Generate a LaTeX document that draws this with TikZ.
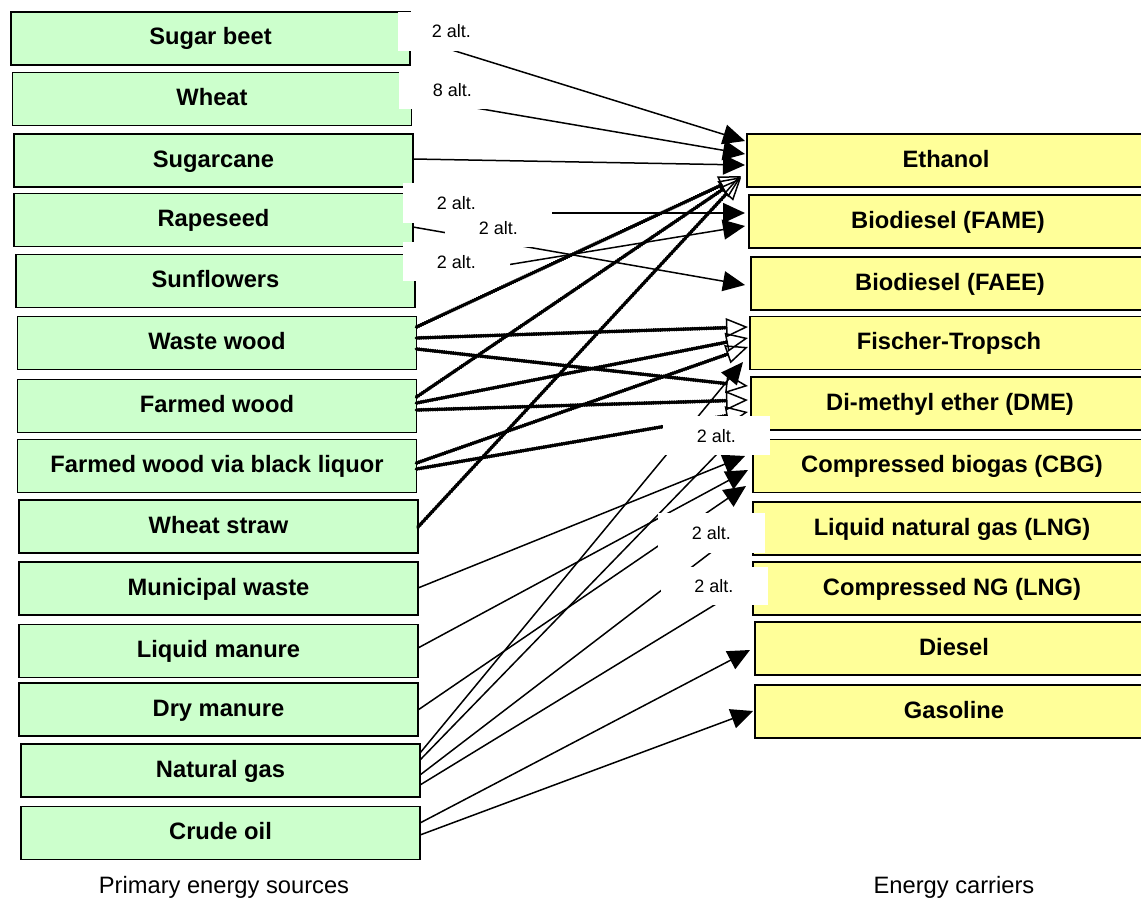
\documentclass[tikz,border=0pt]{standalone}
\usepackage{fontspec}
\setmainfont{Liberation Sans}
\usetikzlibrary{arrows.meta,calc}
\definecolor{srcgreen}{HTML}{CCFFCC}
\definecolor{caryellow}{HTML}{FFFF99}
\begin{document}
\begin{tikzpicture}[x=1pt,y=-1pt,
  src/.style={draw=black, line width=1.8pt, fill=srcgreen, minimum width=399pt, minimum height=53pt,
    inner sep=0pt, outer sep=0pt, font=\fontsize{23.7}{28}\selectfont\bfseries, text height=17pt, text depth=4pt},
  car/.style={src, fill=caryellow, minimum width=398pt},
  altlbl/.style={fill=white, draw=none, minimum width=107pt, minimum height=39pt, inner sep=0pt,
    font=\fontsize{18}{21}\selectfont, text height=13pt, text depth=0pt},
  conn/.style={line width=1.5pt, -{Triangle[length=22pt,width=20pt]}},
  bead/.style={line width=2.8pt, -{Triangle[open,length=22pt,width=19pt,line width=1.5pt]},
    postaction={draw, -, line width=3.8pt, dash pattern=on 0.5pt off 1.8pt, line cap=round, shorten >=22pt}},
  caption/.style={font=\fontsize{23.7}{28}\selectfont, inner sep=0pt}
]
\useasboundingbox (0,0) rectangle (1141,899);
\clip (0,0) rectangle (1141,899);
\fill[white] (0,0) rectangle (1141,899);

% primary energy sources
\node[src] (sb) at (210.5,38.5) {Sugar beet};
\node[src] (wh) at (212,99) {Wheat};
\node[src] (sc) at (213.5,160.5) {Sugarcane};
\node[src] (rs) at (213.5,220) {Rapeseed};
\node[src] (sf) at (215.5,281) {Sunflowers};
\node[src] (ww) at (217,343) {Waste wood};
\node[src] (fw) at (217,406) {Farmed wood};
\node[src] (bl) at (217,466) {Farmed wood via black liquor};
\node[src] (ws) at (218.5,526.5) {Wheat straw};
\node[src] (mw) at (218.5,588.5) {Municipal waste};
\node[src] (lm) at (218.5,651) {Liquid manure};
\node[src] (dm) at (218.5,709.5) {Dry manure};
\node[src] (ng) at (220.5,770.5) {Natural gas};
\node[src] (co) at (220.5,833) {Crude oil};

% energy carriers
\node[car] (eth) at (946,160.5) {Ethanol};
\node[car] (fame) at (948,221.5) {Biodiesel (FAME)};
\node[car] (faee) at (950,283.5) {Biodiesel (FAEE)};
\node[car] (ft) at (949,343) {Fischer-Tropsch};
\node[car] (dme) at (950,403.5) {Di-methyl ether (DME)};
\node[car] (cbg) at (952,466) {Compressed biogas (CBG)};
\node[car] (lng) at (952,528.5) {Liquid natural gas (LNG)};
\node[car] (cng) at (952,588.5) {Compressed NG (LNG)};
\node[car] (dsl) at (954,648.5) {Diesel};
\node[car] (gas) at (954,711.5) {Gasoline};

% thick beaded connectors (open heads)
\draw[bead] ($(ww.east)+(0,-16)$) -- ($(eth.west)+(-6,15.5)$);
\draw[bead] ($(fw.east)+(0,-9)$) -- ($(eth.west)+(-6,16.5)$);
\draw[bead] ($(ws.east)+(0,0.5)$) -- ($(eth.west)+(-6,17.5)$);
\draw[bead] ($(ww.east)+(0,-5)$) -- ($(ft.west)+(-2,-16)$);
\draw[bead] ($(ww.east)+(0,6)$) -- ($(dme.west)+(-3,-17.5)$);
\draw[bead] ($(fw.east)+(0,-3)$) -- ($(ft.west)+(-2,-5)$);
\draw[bead] ($(fw.east)+(0,4)$) -- ($(dme.west)+(-3,-3.5)$);
\draw[bead] ($(bl.east)+(0,-3)$) -- ($(ft.west)+(-2,4)$);
\draw[bead] ($(bl.east)+(0,3)$) -- ($(dme.west)+(-3,8.5)$);

% thin connectors (filled heads)
\draw[conn] ($(sb.east)+(0,-1.5)$) -- ($(eth.west)+(-2,-19.5)$);
\draw[conn] ($(wh.east)+(0,-2)$) -- ($(eth.west)+(-2,-6.5)$);
\draw[conn] ($(sc.east)+(0,-1.5)$) -- ($(eth.west)+(-2,4.5)$);
\draw[conn] ($(rs.east)+(0,-7)$) -- ($(fame.west)+(-4,-8.5)$);
\draw[conn] ($(sf.east)+(0,-1)$) -- ($(fame.west)+(-4,4.5)$);
\draw[conn] ($(rs.east)+(0,7)$) -- ($(faee.west)+(-6,1.5)$);
\draw[conn] ($(ng.east)+(0,-17.5)$) -- ($(ft.west)+(-7,19)$);
\draw[conn] ($(ng.east)+(0,-10.5)$) -- ($(dme.west)+(1,14.5)$);
\draw[conn] ($(ng.east)+(0,4.5)$) -- ($(lng.west)+(-1,-7.5)$);
\draw[conn] ($(ng.east)+(0,14.5)$) -- ($(cng.west)+(-1,-6.5)$);
\draw[conn] ($(mw.east)+(0,-0.5)$) -- ($(cbg.west)+(-8,-10)$);
\draw[conn] ($(lm.east)+(0,-3)$) -- ($(cbg.west)+(-5,4)$);
\draw[conn] ($(dm.east)+(0,0.5)$) -- ($(cbg.west)+(-7,20)$);
\draw[conn] ($(co.east)+(0,-10)$) -- ($(dsl.west)+(-5,1.5)$);
\draw[conn] ($(co.east)+(0,2)$) -- ($(gas.west)+(-2,-0.5)$);

% alternative count labels
\node[altlbl] (a1) at (451.5,31.5) {2 alt.};
\node[altlbl, minimum height=38pt] (a2) at (452.5,90) {8 alt.};
\node[altlbl, minimum height=40pt] (a3) at (456.5,203) {2 alt.};
\node[altlbl, minimum height=38pt] (a4) at (498.5,228) {2 alt.};
\node[altlbl] (a5) at (456.5,261.5) {2 alt.};
\node[altlbl] (a6) at (716.5,435.5) {2 alt.};
\node[altlbl, minimum height=40pt] (a7) at (711.5,533) {2 alt.};
\node[altlbl, minimum height=38pt] (a8) at (714,586) {2 alt.};

% captions
\node[caption] (lp) at (224,887) {Primary energy sources};
\node[caption] (lc) at (954,887) {Energy carriers};
\end{tikzpicture}
\end{document}
